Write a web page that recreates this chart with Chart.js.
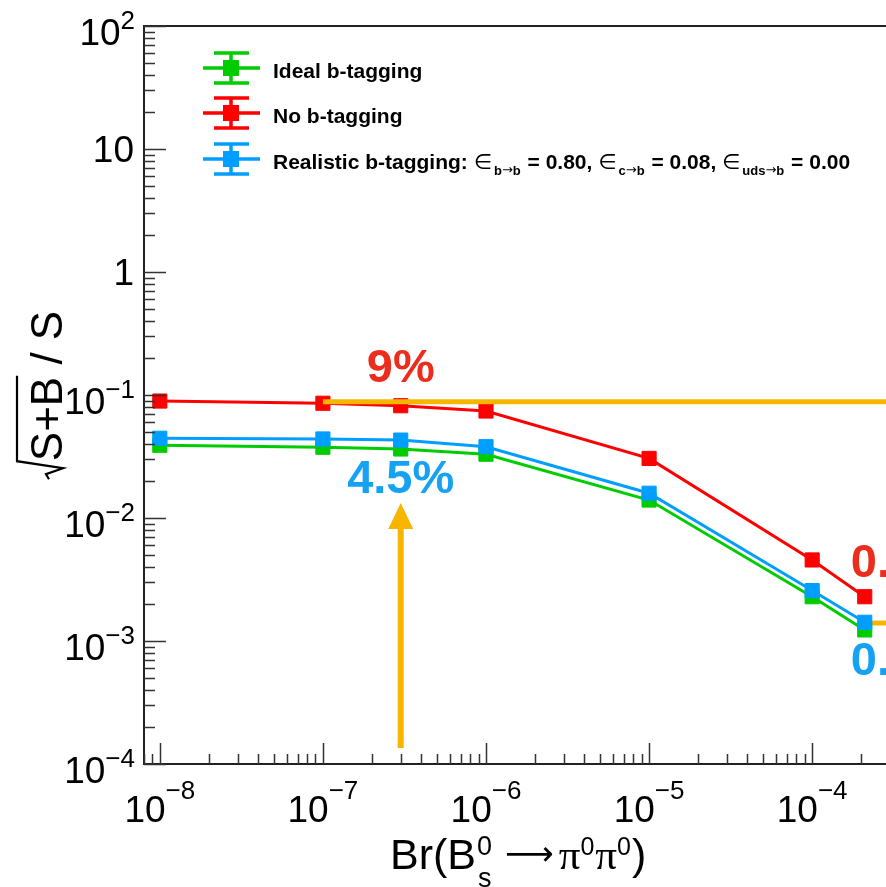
<!DOCTYPE html>
<html>
<head>
<meta charset="utf-8">
<title>sqrt(S+B)/S vs Br(Bs -> pi0 pi0)</title>
<script src="https://cdn.jsdelivr.net/npm/chart.js@4.4.1/dist/chart.umd.min.js"></script>
<style>
    html, body { margin: 0; padding: 0; background: #fff; overflow: hidden; }
    #wrap { position: relative; width: 900px; height: 887px; }
</style>
</head>
<body>
<div id="wrap"><canvas id="chart"></canvas></div>
<script>
// Br(Bs -> pi0 pi0) values where the scenarios were evaluated
const branchingRatios = [1e-8, 1e-7, 3e-7, 1e-6, 1e-5, 1e-4, 2.1e-4];

// sqrt(S+B)/S for each b-tagging scenario
const idealTagging     = [0.039, 0.0376, 0.0364, 0.033, 0.014, 0.00229, 0.00123];
const noTagging        = [0.0893, 0.0857, 0.0818, 0.0741, 0.0305, 0.00456, 0.00229];
const realisticTagging = [0.0445, 0.0439, 0.043, 0.038, 0.0159, 0.00257, 0.00142];

const seriesNames = ['Ideal b-tagging', 'No b-tagging', 'Realistic b-tagging:'];
const efficiencyFrom = ['b', 'c', 'uds'];
const efficiencyValues = ['0.80', '0.08', '0.00'];

// orange reference marks
const noTagLevelX = [1e-7, 3e-4];
const noTagLevelY = [0.088, 0.088];
const limitLevelX = [2.1e-4, 3e-4];
const limitLevelY = [0.0014, 0.0014];
const arrowX = [3e-7, 3e-7];
const arrowY = [1.35e-4, 0.0083];

// percentage notes
const noTagNotes = ['9%', '0.23%'];
const realisticNotes = ['4.5%', '0.14%'];

// axes
const xRange = [8e-9, 3e-4];
const yRange = [1e-4, 100];
const xTickValues = [1e-8, 1e-7, 1e-6, 1e-5, 1e-4];
const xTickExps = ['−8', '−7', '−6', '−5', '−4'];
const yTickValues = [1e-4, 1e-3, 1e-2, 1e-1, 1, 10, 100];
const yTickBases = ['10', '10', '10', '10', '1', '10', '10'];
const yTickExps = ['−4', '−3', '−2', '−1', '', '', '2'];

const SANS = '"Liberation Sans", Arial, Helvetica, sans-serif';
const SERIF = '"Liberation Serif", "Times New Roman", serif';
const ARROWS = '"DejaVu Sans", sans-serif';
const GREEN = '#00cc00';
const RED = '#ff0000';
const BLUE = '#009fff';
const ORANGE = '#f7b500';
const seriesColors = [GREEN, RED, BLUE];

function points(xs, ys) {
    return xs.map((x, i) => ({ x: x, y: ys[i] }));
}

function logTicks(min, max) {
    const out = [];
    for (let e = Math.floor(Math.log10(min)); e <= Math.ceil(Math.log10(max)); e++) {
        for (let m = 1; m < 10; m++) {
            const v = m * Math.pow(10, e);
            if (v >= min * 0.999 && v <= max * 1.001) out.push({ v: v, major: m === 1 });
        }
    }
    return out;
}

function drawPower(ctx, base, exp, x, baseY, expY, align) {
    ctx.font = '37px ' + SANS;
    const bw = ctx.measureText(base).width;
    ctx.font = '26px ' + SANS;
    const ew = exp ? ctx.measureText(exp).width : 0;
    const total = bw + ew;
    const left = align === 'right' ? x - total : (align === 'center' ? x - total / 2 : x);
    ctx.textAlign = 'left';
    ctx.font = '37px ' + SANS;
    ctx.fillText(base, left, baseY);
    if (exp) {
        ctx.font = '26px ' + SANS;
        ctx.fillText(exp, left + bw, expY);
    }
}

// draws text pieces left to right, returns the x after the last one
function drawRun(ctx, pieces, x, y) {
    pieces.forEach(p => {
        ctx.font = p[1];
        ctx.fillText(p[0], x, y + (p[2] || 0));
        x += ctx.measureText(p[0]).width + (p[3] || 0);
    });
    return x;
}

function seriesDataset(label, values, color, order) {
    return {
        label: label,
        data: points(branchingRatios, values),
        borderColor: color,
        backgroundColor: color,
        borderWidth: 3,
        pointStyle: 'rect',
        pointRadius: 10,
        pointBorderWidth: 1,
        tension: 0,
        order: order
    };
}

function refDataset(xs, ys, width, order) {
    return {
        data: points(xs, ys),
        borderColor: ORANGE,
        borderWidth: width,
        pointRadius: 0,
        tension: 0,
        order: order
    };
}

const rootStyle = {
    id: 'rootStyle',
    afterDatasetsDraw(chart) {
        const { ctx, scales: { x, y } } = chart;
        ctx.save();
        // arrow head on top of the vertical orange shaft
        const ax = x.getPixelForValue(arrowX[1]);
        const ay = y.getPixelForValue(arrowY[1]);
        ctx.fillStyle = ORANGE;
        ctx.beginPath();
        ctx.moveTo(ax, ay - 25);
        ctx.lineTo(ax - 12.5, ay + 1);
        ctx.lineTo(ax + 12.5, ay + 1);
        ctx.closePath();
        ctx.fill();

        // percentage notes
        ctx.font = 'bold 47px ' + SANS;
        const last = branchingRatios.length - 1;
        const xl = x.getPixelForValue(branchingRatios[last]);
        ctx.fillStyle = '#ec2c1c';
        ctx.textAlign = 'center';
        ctx.fillText(noTagNotes[0], ax, y.getPixelForValue(noTagLevelY[0]) - 20);
        ctx.textAlign = 'left';
        ctx.fillText(noTagNotes[1], xl - 14, y.getPixelForValue(noTagging[last]) - 20);
        ctx.fillStyle = '#16a2f2';
        ctx.textAlign = 'center';
        ctx.fillText(realisticNotes[0], ax, y.getPixelForValue(realisticTagging[2]) + 53);
        ctx.textAlign = 'left';
        ctx.fillText(realisticNotes[1], xl - 14, y.getPixelForValue(realisticTagging[last]) + 53);
        ctx.restore();
    },
    afterDraw(chart) {
        const { ctx, chartArea: a, scales: { x, y } } = chart;
        ctx.save();

        // frame
        ctx.strokeStyle = '#222';
        ctx.lineWidth = 2;
        ctx.beginPath();
        ctx.moveTo(a.right + 20, a.top);
        ctx.lineTo(a.left, a.top);
        ctx.lineTo(a.left, a.bottom);
        ctx.lineTo(a.right + 20, a.bottom);
        ctx.stroke();

        // inward ticks
        ctx.strokeStyle = '#333';
        ctx.lineWidth = 1.5;
        ctx.beginPath();
        logTicks(yRange[0], yRange[1]).forEach(t => {
            const py = Math.round(y.getPixelForValue(t.v)) + 0.5;
            ctx.moveTo(a.left, py);
            ctx.lineTo(a.left + (t.major ? 22 : 11), py);
        });
        logTicks(xRange[0], xRange[1]).forEach(t => {
            const px = Math.round(x.getPixelForValue(t.v)) + 0.5;
            ctx.moveTo(px, a.bottom);
            ctx.lineTo(px, a.bottom - (t.major ? 21 : 10));
        });
        ctx.stroke();

        // tick labels
        ctx.fillStyle = '#000';
        ctx.textBaseline = 'alphabetic';
        yTickValues.forEach((v, i) => {
            const py = y.getPixelForValue(v);
            if (yTickExps[i]) {
                drawPower(ctx, yTickBases[i], yTickExps[i], 135, py + 19, py + 3, 'right');
            } else {
                drawPower(ctx, yTickBases[i], '', 134, py + 13, py, 'right');
            }
        });
        xTickValues.forEach((v, i) => {
            drawPower(ctx, '10', xTickExps[i], x.getPixelForValue(v), a.bottom + 58, a.bottom + 35, 'center');
        });

        // x title: Br(B_s^0 -> pi0 pi0)
        const by = 869;
        ctx.textAlign = 'left';
        let cx = drawRun(ctx, [['Br(B', '43px ' + SANS]], 390, by);
        ctx.font = '27px ' + SANS;
        ctx.fillText('0', cx + 1, by - 14);
        ctx.fillText('s', cx + 2, by + 18);
        cx += ctx.measureText('0').width + 14;
        cx = drawRun(ctx, [
            ['⟶', '34px ' + ARROWS, -4, 5],
            ['π', '43px ' + SERIF], ['0', '25px ' + SANS, -14, 1],
            ['π', '43px ' + SERIF], ['0', '25px ' + SANS, -14, 1],
            [')', '43px ' + SANS]
        ], cx, by);

        // y title: sqrt(S+B) / S, rotated
        ctx.save();
        ctx.translate(62, (a.top + a.bottom) / 2);
        ctx.rotate(-Math.PI / 2);
        ctx.font = '44px ' + SANS;
        const under = 'S+B';
        const rest = ' / S';
        const wu = ctx.measureText(under).width;
        const wr = ctx.measureText(rest).width;
        const rad = 18;
        const u = -(rad + wu + wr) / 2;
        ctx.strokeStyle = '#000';
        ctx.lineWidth = 2.2;
        ctx.beginPath();
        ctx.moveTo(u, -13);
        ctx.lineTo(u + 5, -16);
        ctx.lineTo(u + 11, 1);
        ctx.lineTo(u + rad, -45);
        ctx.lineTo(u + rad + wu + 1, -45);
        ctx.stroke();
        ctx.fillText(under, u + rad, 0);
        ctx.fillText(rest, u + rad + wu, 0);
        ctx.restore();

        // legend with error-bar glyphs
        const rows = [68, 113, 159];
        rows.forEach((cy, i) => {
            ctx.strokeStyle = seriesColors[i];
            ctx.fillStyle = seriesColors[i];
            ctx.lineWidth = 3.5;
            ctx.beginPath();
            ctx.moveTo(203, cy); ctx.lineTo(260, cy);
            ctx.moveTo(231, cy - 15); ctx.lineTo(231, cy + 15);
            ctx.moveTo(214, cy - 15); ctx.lineTo(249, cy - 15);
            ctx.moveTo(214, cy + 15); ctx.lineTo(249, cy + 15);
            ctx.stroke();
            ctx.fillRect(223, cy - 8, 16, 16);
            ctx.fillStyle = '#000';
            ctx.font = 'bold 21px ' + SANS;
            ctx.fillText(seriesNames[i], 273, cy + 10);
        });
        const ly = rows[2] + 10;
        ctx.font = 'bold 21px ' + SANS;
        let lx = 273 + ctx.measureText(seriesNames[2] + ' ').width;
        efficiencyFrom.forEach((q, i) => {
            const tail = ' = ' + efficiencyValues[i] + (i < efficiencyFrom.length - 1 ? ', ' : '');
            lx = drawRun(ctx, [
                ['∈', '21px ' + ARROWS, 0, 2],
                [q, 'bold 13px ' + SANS, 6],
                ['→', '13px ' + ARROWS, 5],
                ['b', 'bold 13px ' + SANS, 6, 1],
                [tail, 'bold 21px ' + SANS]
            ], lx, ly);
        });
        ctx.restore();
    }
};

new Chart(document.getElementById('chart'), {
    type: 'line',
    data: {
        datasets: [
            refDataset(noTagLevelX, noTagLevelY, 5, 0),
            refDataset(arrowX, arrowY, 6, 0),
            seriesDataset(seriesNames[2], realisticTagging, BLUE, 1),
            seriesDataset(seriesNames[0], idealTagging, GREEN, 2),
            seriesDataset(seriesNames[1], noTagging, RED, 3),
            refDataset(limitLevelX, limitLevelY, 5, 4)
        ]
    },
    options: {
        responsive: true,
        maintainAspectRatio: false,
        animation: false,
        layout: { padding: { top: 26, right: 10, bottom: 0, left: 0 }, autoPadding: false },
        plugins: { legend: { display: false }, tooltip: { enabled: false } },
        scales: {
            x: {
                type: 'logarithmic', min: xRange[0], max: xRange[1], bounds: 'data',
                grid: { display: false }, border: { display: false }, ticks: { display: false },
                afterFit: s => { s.height = 123; }
            },
            y: {
                type: 'logarithmic', min: yRange[0], max: yRange[1], bounds: 'data',
                grid: { display: false }, border: { display: false }, ticks: { display: false },
                afterFit: s => { s.width = 144; }
            }
        }
    },
    plugins: [rootStyle]
});
</script>
</body>
</html>
